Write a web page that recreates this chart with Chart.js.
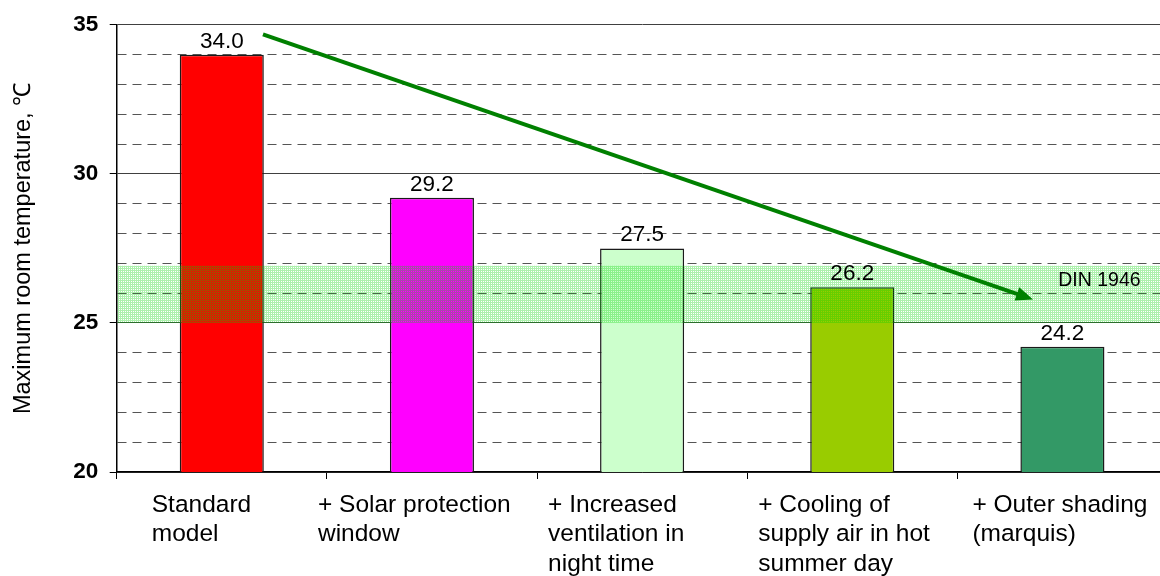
<!DOCTYPE html>
<html>
<head>
<meta charset="utf-8">
<script src="https://cdn.jsdelivr.net/npm/chart.js@4.4.1/dist/chart.umd.min.js"></script>
<style>
html, body { margin: 0; padding: 0; background: #fff; overflow: hidden; }
#wrap { width: 1180px; height: 576px; }
</style>
</head>
<body>
<div id="wrap"><canvas id="chart" width="1180" height="576"></canvas></div>
<script>
var categories = [
  ["Standard", "model"],
  ["+ Solar protection", "window"],
  ["+ Increased", "ventilation in", "night time"],
  ["+ Cooling of", "supply air in hot", "summer day"],
  ["+ Outer shading", "(marquis)"]
];
var temperatures = [34.0, 29.2, 27.5, 26.2, 24.2];
var barColors = ['#ff0000', '#ff00ff', '#ccffcc', '#99cc00', '#339966'];
var yMin = 20, yMax = 35, majorStep = 5;
var comfortBand = [25, 26.92];      // DIN 1946 range
var bandLabel = 'DIN 1946';
var bandLabelAt = [3.98, 26.23];
var arrowFrom = [0.196, 34.68];
var arrowTo = [3.86, 25.79];
// left edge of each wrapped label, relative to category centre
var labelShift = [-70, -114, -94, -94, -90];

Chart.defaults.font.family = 'Liberation Sans, Arial, sans-serif';
Chart.defaults.color = '#000';

function isMajor(v) { return v % majorStep === 0; }

function hatch(ctx) {
  var c = document.createElement('canvas');
  c.width = 2; c.height = 2;
  var g = c.getContext('2d');
  g.fillStyle = 'rgba(0,210,0,0.32)';
  g.fillRect(0, 0, 2, 1);
  g.fillRect(0, 1, 1, 1);
  return ctx.createPattern(c, 'repeat');
}

var overlay = {
  id: 'overlay',
  afterDatasetsDraw: function(chart) {
    var ctx = chart.ctx, x = chart.scales.x, y = chart.scales.y, area = chart.chartArea;
    ctx.save();

    // comfort band on top of the bars
    var top = y.getPixelForValue(comfortBand[1]), bot = y.getPixelForValue(comfortBand[0]);
    ctx.fillStyle = hatch(ctx);
    ctx.fillRect(area.left + 1, top, area.right - area.left, bot - top);

    ctx.font = '19.5px Liberation Sans';
    ctx.fillStyle = '#000';
    ctx.textAlign = 'left';
    ctx.textBaseline = 'alphabetic';
    ctx.fillText(bandLabel, x.getPixelForValue(bandLabelAt[0]), y.getPixelForValue(bandLabelAt[1]));

    // arrow
    var x1 = x.getPixelForValue(arrowFrom[0]), y1 = y.getPixelForValue(arrowFrom[1]);
    var x2 = x.getPixelForValue(arrowTo[0]), y2 = y.getPixelForValue(arrowTo[1]);
    var ang = Math.atan2(y2 - y1, x2 - x1);
    var headLen = 17, headW = 7;
    var bx = x2 - headLen * Math.cos(ang), by = y2 - headLen * Math.sin(ang);
    ctx.strokeStyle = '#008000';
    ctx.fillStyle = '#008000';
    ctx.lineWidth = 4;
    ctx.beginPath();
    ctx.moveTo(x1, y1);
    ctx.lineTo(bx + 3 * Math.cos(ang), by + 3 * Math.sin(ang));
    ctx.stroke();
    ctx.beginPath();
    ctx.moveTo(x2, y2);
    ctx.lineTo(bx + headW * Math.sin(ang), by - headW * Math.cos(ang));
    ctx.lineTo(bx - headW * Math.sin(ang), by + headW * Math.cos(ang));
    ctx.closePath();
    ctx.fill();

    // value labels
    ctx.fillStyle = '#000';
    ctx.font = '22.5px Liberation Sans';
    ctx.textAlign = 'center';
    chart.getDatasetMeta(0).data.forEach(function(bar, i) {
      ctx.fillText(temperatures[i].toFixed(1), bar.x, bar.y - 7);
    });

    // category labels, wrapped and left aligned
    ctx.font = '24.5px Liberation Sans';
    ctx.textAlign = 'left';
    categories.forEach(function(lines, i) {
      var lx = x.getPixelForValue(i) + labelShift[i];
      lines.forEach(function(line, j) {
        ctx.fillText(line, lx, x.top + 40 + j * 29.3);
      });
    });
    ctx.restore();
  }
};

new Chart(document.getElementById('chart'), {
  type: 'bar',
  data: {
    labels: categories.map(function(c) { return c.join(' '); }),
    datasets: [{
      data: temperatures,
      backgroundColor: barColors,
      borderColor: '#1a1a1a',
      borderWidth: 1.5,
      barPercentage: 0.4,
      categoryPercentage: 1
    }]
  },
  options: {
    responsive: false,
    animation: false,
    layout: { padding: { top: 22, right: 12.5, left: 0, bottom: 0 } },
    plugins: { legend: { display: false }, tooltip: { enabled: false } },
    scales: {
      x: {
        ticks: { display: false },
        grid: { drawOnChartArea: false, drawTicks: true, tickLength: 7, color: '#000', lineWidth: 1 },
        border: { color: '#000', width: 1.5 },
        afterFit: function(s) { s.height = 104; }
      },
      y: {
        min: yMin,
        max: yMax,
        ticks: {
          stepSize: 1,
          maxTicksLimit: 20,
          autoSkip: false,
          padding: 11.4,
          font: { size: 22.5, weight: 'bold' },
          callback: function(v) { return isMajor(v) ? v : ''; }
        },
        grid: {
          tickLength: 7,
          lineWidth: 1,
          color: function(c) { return isMajor(c.tick.value) ? '#404040' : '#555'; },
          tickColor: function(c) { return isMajor(c.tick.value) ? '#000' : 'rgba(0,0,0,0)'; }
        },
        border: {
          color: '#000',
          width: 1.5,
          dash: function(c) { return c.tick && !isMajor(c.tick.value) ? [9, 6] : []; }
        },
        title: {
          display: true,
          text: 'Maximum room temperature, ℃',
          font: { size: 23.5 },
          padding: { top: 9.4, bottom: 0 }
        },
        afterFit: function(s) { s.width = 116.7; }
      }
    }
  },
  plugins: [overlay]
});
</script>
</body>
</html>
